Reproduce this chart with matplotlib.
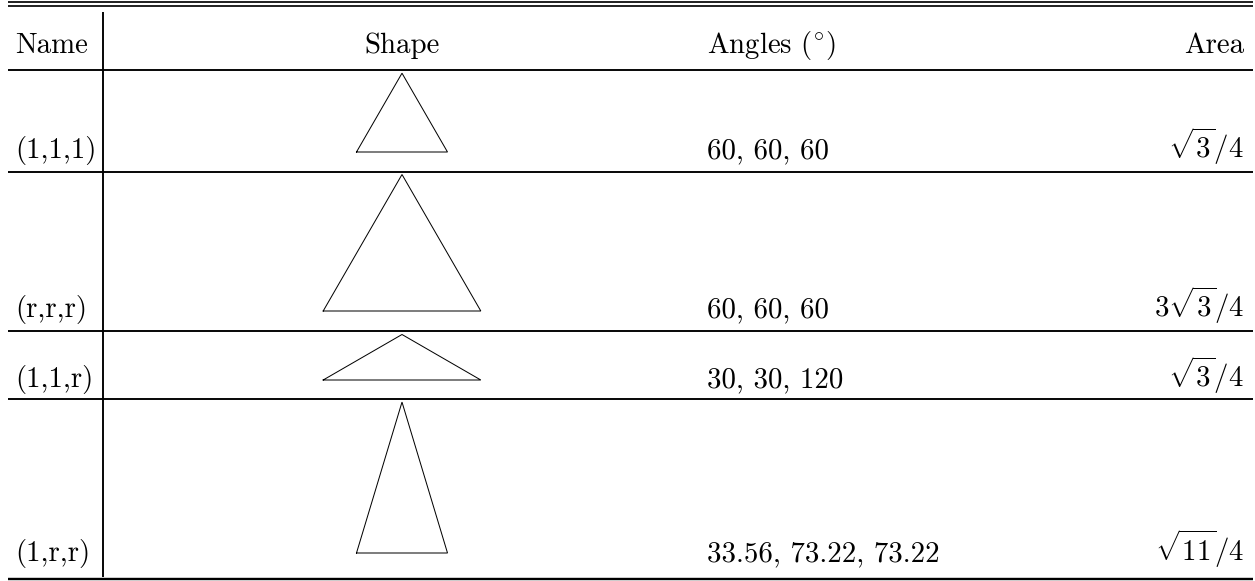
import numpy as np
import matplotlib
matplotlib.use("Agg")
import matplotlib.pyplot as plt

plt.rcParams['font.family'] = ['cmr10', 'DejaVu Serif']
plt.rcParams['mathtext.fontset'] = 'cm'
plt.rcParams['axes.unicode_minus'] = False

# ---- data ----
headers = ["Name", "Shape", r"Angles $({}^{\circ})$", "Area"]
names = ["(1,1,1)", "(r,r,r)", "(1,1,r)", "(1,r,r)"]
r = np.sqrt(3.0)
# drawn triangle sides: (left side, right side, base)
sides = [(1, 1, 1), (r, r, r), (1, 1, r), (r, r, 1)]
angles = ["60, 60, 60", "60, 60, 60", "30, 30, 120", "33.56, 73.22, 73.22"]
areas = [r"$\sqrt{3}/4$", r"$3\sqrt{3}/4$", r"$\sqrt{3}/4$", r"$\sqrt{11}/4$"]

# ---- layout (pixels) ----
W, H = 1255, 581
fig = plt.figure(figsize=(W / 100, H / 100), dpi=100)
ax = fig.add_axes([0, 0, 1, 1])
ax.set_xlim(0, W)
ax.set_ylim(H, 0)
ax.axis('off')

px = 0.72  # points per pixel
FS = 20.8
left, right = 8, 1253
vline_x = 103
header_rule = 70
row_rules = [172, 331, 399, 579]
row_baselines = [158, 317, 387, 561]
tri_base_y = [152, 311, 380, 553]
header_baseline = 53
unit = 91.0
shape_cx = 402
name_x = 15
angle_x = 707
area_x = 1244

# top double rule
for y in (1.5, 5.5):
    ax.plot([left, right], [y, y], color='black', lw=1.7 * px, solid_capstyle='butt')
# vertical rule
ax.plot([vline_x, vline_x], [12, 577], color='black', lw=1.9 * px, solid_capstyle='butt')

# horizontal rules
all_rules = [header_rule] + row_rules
for i, y in enumerate(all_rules):
    lw = 2.4 if i == len(all_rules) - 1 else 1.9
    ax.plot([left, right], [y, y], color='black', lw=lw * px, solid_capstyle='butt')

# headers
ax.text(name_x, header_baseline, headers[0], fontsize=FS, ha='left', va='baseline')
ax.text(shape_cx, header_baseline, headers[1], fontsize=FS, ha='center', va='baseline')
ax.text(angle_x, header_baseline, headers[2], fontsize=FS, ha='left', va='baseline')
ax.text(area_x, header_baseline, headers[3], fontsize=FS, ha='right', va='baseline')

# rows
for i in range(len(names)):
    a, b, c = sides[i]
    xa = (a ** 2 + c ** 2 - b ** 2) / (2 * c)
    ha_ = np.sqrt(max(a ** 2 - xa ** 2, 0))
    base_y = tri_base_y[i]
    x0 = shape_cx - c * unit / 2
    xs = [x0, x0 + c * unit, x0 + xa * unit, x0]
    ys = [base_y, base_y, base_y - ha_ * unit, base_y]
    top = base_y - ha_ * unit - 3
    prev_rule = all_rules[i]
    if top <= prev_rule + 1:
        ax.plot([min(xs) - 4, max(xs) + 2], [prev_rule + 0.55, prev_rule + 0.55],
                color='white', lw=1.0 * px, solid_capstyle='butt', zorder=3)
    ax.plot(xs, ys, color='black', lw=1.0 * px, zorder=4, solid_joinstyle='miter')
    yb = row_baselines[i]
    ax.text(name_x, yb, names[i], fontsize=FS, ha='left', va='baseline')
    ax.text(angle_x, yb, angles[i], fontsize=FS, ha='left', va='baseline')
    ax.text(area_x, yb, areas[i], fontsize=FS, ha='right', va='baseline')

fig.savefig("out.png", dpi=100, facecolor='white')
